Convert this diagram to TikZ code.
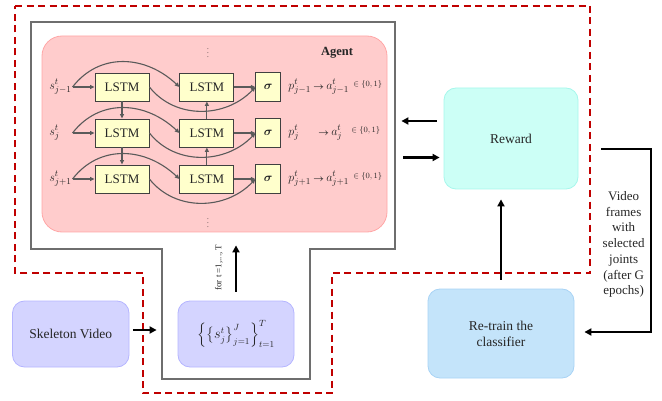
\documentclass[tikz,border=0pt]{standalone}
\usepackage{fontspec}
\setmainfont{Liberation Serif}
\usepackage{amsmath,amssymb}
\usepackage{bm}
\usepackage{tikz}
\usetikzlibrary{arrows.meta,positioning,calc}

\definecolor{agentpink}{HTML}{FFCCCC}
\definecolor{agentedge}{HTML}{FFA6A6}
\definecolor{lstmyellow}{HTML}{FFFFCC}
\definecolor{rewardfill}{HTML}{CCFFF6}
\definecolor{rewardedge}{HTML}{A6F7EC}
\definecolor{retrainfill}{HTML}{C4E4FA}
\definecolor{retrainedge}{HTML}{A8D3F5}
\definecolor{skelfill}{HTML}{D4D4FF}
\definecolor{skeledge}{HTML}{B5B5FF}
\definecolor{dashred}{HTML}{C00000}
\definecolor{framegray}{HTML}{6E6E6E}
\definecolor{netgray}{HTML}{5A5A5A}

\begin{document}
\begin{tikzpicture}[x=1pt, y=-1pt, text=black!85,
  lstm/.style={draw=black!75, fill=lstmyellow, line width=0.9pt, minimum width=54pt, minimum height=28pt, inner sep=0pt, font=\fontsize{13}{15}\selectfont},
  sigbox/.style={lstm, minimum width=25pt, minimum height=29pt},
  inlabel/.style={inner sep=0pt, text width=23pt, align=left, font=\fontsize{13}{15}\selectfont},
  outlabel/.style={inner sep=0pt, font=\fontsize{13}{15}\selectfont},
  net/.style={draw=netgray, line width=1.1pt, -{Triangle[length=4.5pt,width=4pt]}},
  bigarrow/.style={line width=2.2pt, -{Triangle[length=7pt,width=7pt]}},
  softbox/.style={rounded corners=12pt, line width=0.8pt, inner sep=2pt, align=center, font=\fontsize{13.5}{16}\selectfont}]

  \useasboundingbox (0,0) rectangle (662,401);

  % agent box
  \node[draw=agentedge, fill=agentpink, line width=0.8pt, rounded corners=20pt, minimum width=345pt, minimum height=196pt] (agent) at (214.5,134) {};
  \node[font=\fontsize{12.5}{14}\selectfont\bfseries] (agtitle) at (337,53) {Agent};
  \node[font=\scriptsize] (dtop) at (208,50) {$\vdots$};
  \node[font=\scriptsize] (dbot) at (208,220) {$\vdots$};

  % red dashed region
  \draw[dashred, line width=2pt, dash pattern=on 7pt off 4.5pt] (15,6) -- (590,6) -- (590,273) -- (332,273) -- (332,393) -- (142.5,393) -- (142.5,273) -- (15,273) -- cycle;

  % gray frame
  \draw[framegray, line width=1.3pt] (31,22) -- (395,22) -- (395,249) -- (310,249) -- (310,379) -- (162,379) -- (162,249) -- (31,249) -- cycle;

  % LSTM rows
  \foreach \r/\y/\idx in {1/87/{j-1}, 2/133/{j}, 3/179/{j+1}} {
    \node[lstm] (l\r1) at (122,\y) {LSTM};
    \node[lstm, right=30pt of l\r1] (l\r2) {LSTM};
    \node[sigbox, right=21pt of l\r2] (sg\r) {$\bm{\sigma}$};
    \node[inlabel, left=22pt of l\r1] (s\r) {$s^t_{\idx}$};
  }
  \node[outlabel, right=7pt of sg1] (p1) {\makebox[25pt][l]{$p^t_{j-1}$}{\small$\bm{\rightarrow}$}\,\makebox[27pt][l]{$a^t_{j-1}$}\raisebox{3pt}{\fontsize{8}{9}\selectfont$\in\{0,1\}$}};
  \node[outlabel, right=7pt of sg2] (p2) {\makebox[30pt][l]{$p^t_{j}$}{\small$\bm{\rightarrow}$}\,\makebox[20pt][l]{$a^t_{j}$}\raisebox{3pt}{\fontsize{8}{9}\selectfont$\in\{0,1\}$}};
  \node[outlabel, right=7pt of sg3] (p3) {\makebox[25pt][l]{$p^t_{j+1}$}{\small$\bm{\rightarrow}$}\,\makebox[27pt][l]{$a^t_{j+1}$}\raisebox{3pt}{\fontsize{8}{9}\selectfont$\in\{0,1\}$}};

  % connections inside the agent
  \foreach \r in {1,2,3} {
    \draw[net] (s\r.east) -- (l\r1.west);
    \draw[net] (s\r.east) .. controls +(27,-35) and +(-34,-32) .. (l\r2.west);
    \draw[net] (l\r1.east) .. controls +(26,33) and +(-29,31) .. (sg\r.west);
    \draw[net] (l\r2.east) -- (sg\r.west);
  }
  \draw[net] (l11) -- (l21);
  \draw[net] (l21) -- (l31);
  \draw[net] (l32) -- (l22);
  \draw[net] (l22) -- (l12);

  % outer boxes
  \node[softbox, draw=rewardedge, fill=rewardfill, minimum width=134pt, minimum height=101pt] (rew) at (511,138.5) {Reward};
  \node[softbox, draw=retrainedge, fill=retrainfill, minimum width=146pt, minimum height=89pt] (retrain) at (501,333.5) {Re-train the\\classifier};
  \node[softbox, draw=skeledge, fill=skelfill, minimum width=116.5pt, minimum height=66pt] (skel) at (70.75,334) {Skeleton Video};
  \node[softbox, draw=skeledge, fill=skelfill, minimum width=116pt, minimum height=66pt] (seq) at (236,334) {$\left\{\left\{s^t_j\right\}_{j=1}^{J}\right\}_{t=1}^{T}$};

  % arrows
  \draw[bigarrow, shorten <=7pt, shorten >=14pt] ([yshift=17.5pt]rew.west) -- ([yshift=17.5pt]rew.west -| agent.east);
  \draw[bigarrow, shorten <=16pt, shorten >=4pt] ([yshift=-19pt]rew.west -| agent.east) -- ([yshift=-19pt]rew.west);
  \draw[bigarrow, shorten <=3.5pt, shorten >=21pt] ([yshift=4pt]skel.east) -- ([yshift=4pt]seq.west);
  \draw[bigarrow, shorten <=9pt, shorten >=13pt] (seq.north) -- (seq.north |- agent.south);
  \node[rotate=90, font=\fontsize{9}{10}\selectfont] (fort) at ($(seq.north)+(-17,-33)$) {for t =1,..., T};
  \draw[bigarrow, shorten <=9pt, shorten >=10pt] (retrain.north) -- (retrain.north |- rew.south);

  % feedback to the classifier
  \coordinate (rt) at (651,0);
  \draw[bigarrow, shorten <=23pt, shorten >=10pt] ([yshift=-10.5pt]rew.east) -- ([yshift=-10.5pt]rew.east -| rt)
    -- node[left=2pt, yshift=-4pt, align=center, font=\fontsize{13}{15.7}\selectfont] (vtext) {Video\\frames\\with\\selected\\joints\\(after G\\epochs)} ([yshift=1.5pt]retrain.east -| rt)
    -- ([yshift=1.5pt]retrain.east);
\end{tikzpicture}
\end{document}
